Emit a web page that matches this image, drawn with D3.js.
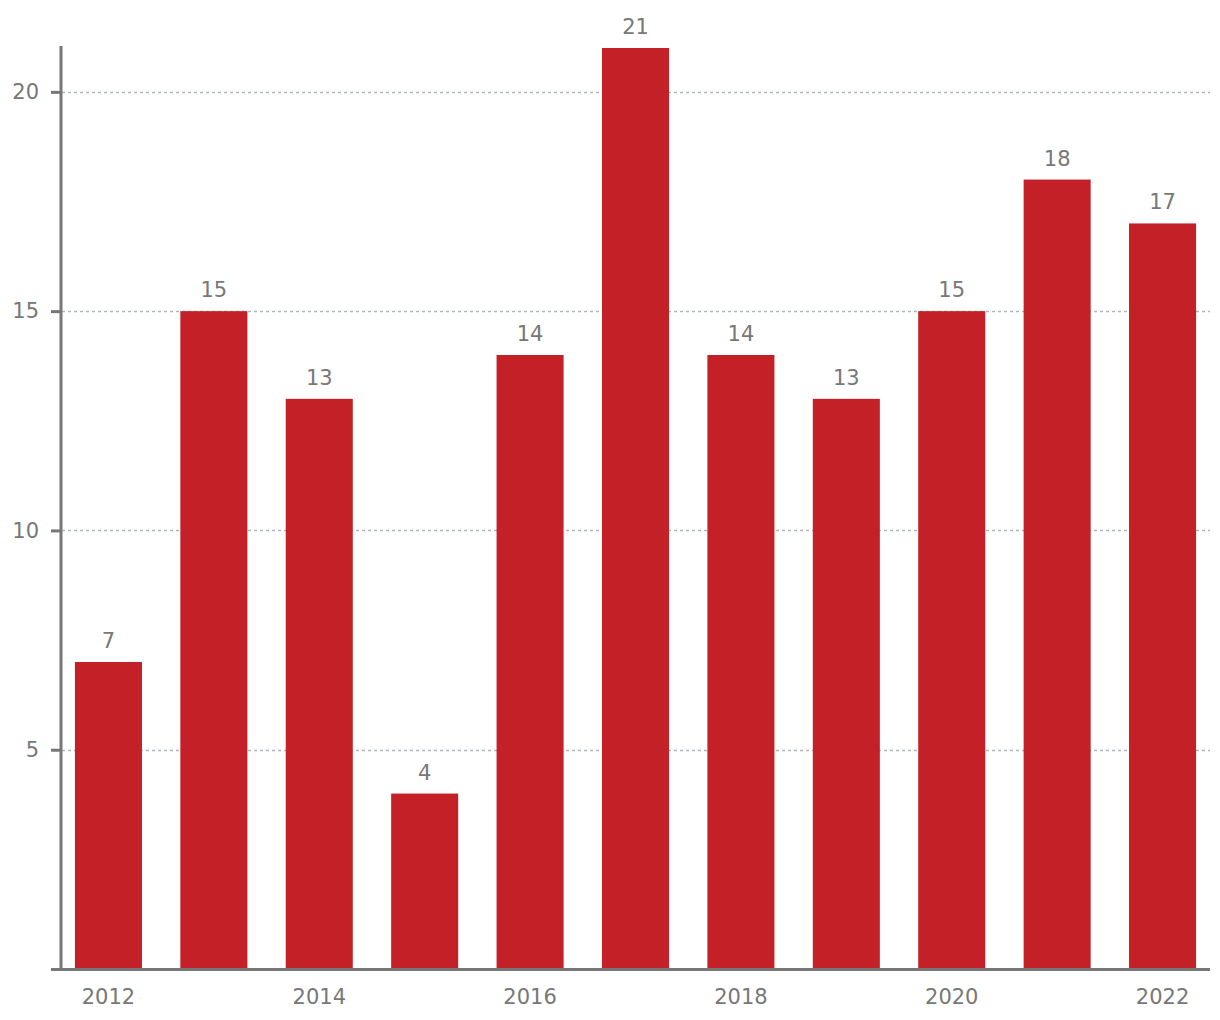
<!DOCTYPE html>
<html><head><meta charset="utf-8">
<script src="https://cdn.jsdelivr.net/npm/d3@7"></script>
<style>body{margin:0;background:#fff}</style>
</head><body>
<svg id="c" width="1220" height="1020"></svg>
<script>
const years = ["2012","2013","2014","2015","2016","2017","2018","2019","2020","2021","2022"];
const values = [7,15,13,4,14,21,14,13,15,18,17];
const yTicks = [5,10,15,20];
const xTickLabels = ["2012","2014","2016","2018","2020","2022"];

const svg = d3.select("#c");
const font = "DejaVu Sans";
const fs = 21;
const x = d3.scaleBand().domain(years).range([61,1210]).paddingInner(0.364).paddingOuter(0.132);
const y = d3.scaleLinear().domain([0,21]).range([969,48]);

// grid
svg.append("g").selectAll("line").data(yTicks).join("line")
  .attr("x1",62).attr("x2",1210).attr("y1",d=>Math.round(y(d))+0.5).attr("y2",d=>Math.round(y(d))+0.5)
  .attr("stroke","#aeb6ba").attr("stroke-width",1.3).attr("stroke-dasharray","3,3");

// bars
svg.append("g").selectAll("rect").data(values).join("rect")
  .attr("x",(d,i)=>x(years[i])).attr("width",x.bandwidth())
  .attr("y",d=>y(d)).attr("height",d=>y(0)-y(d)).attr("fill","#c42027");

// value labels
svg.append("g").selectAll("text").data(values).join("text")
  .attr("x",(d,i)=>x(years[i])+x.bandwidth()/2).attr("y",d=>y(d)-14)
  .attr("text-anchor","middle").attr("fill","#777").attr("font-family",font).attr("font-size",fs)
  .text(d=>d);

// y axis
const yAxis = d3.axisLeft(y).tickValues(yTicks).tickSize(10).tickPadding(12);
const gy = svg.append("g").attr("transform","translate(61,0)").call(yAxis);
gy.select(".domain").remove();
gy.selectAll(".tick line").attr("stroke","#777").attr("stroke-width",3);
gy.selectAll("text").attr("fill","#777").attr("font-family",font).attr("font-size",fs);
svg.append("line").attr("x1",61).attr("x2",61).attr("y1",46).attr("y2",971).attr("stroke","#777").attr("stroke-width",3);

// x axis
const xAxis = d3.axisBottom(x).tickValues(xTickLabels).tickSize(0).tickPadding(20);
const gx = svg.append("g").attr("transform","translate(0,969)").call(xAxis);
gx.select(".domain").remove();
gx.selectAll("text").attr("fill","#777").attr("font-family",font).attr("font-size",fs);
svg.append("line").attr("x1",51).attr("x2",1210).attr("y1",969.5).attr("y2",969.5).attr("stroke","#777").attr("stroke-width",3);
</script>
</body></html>
